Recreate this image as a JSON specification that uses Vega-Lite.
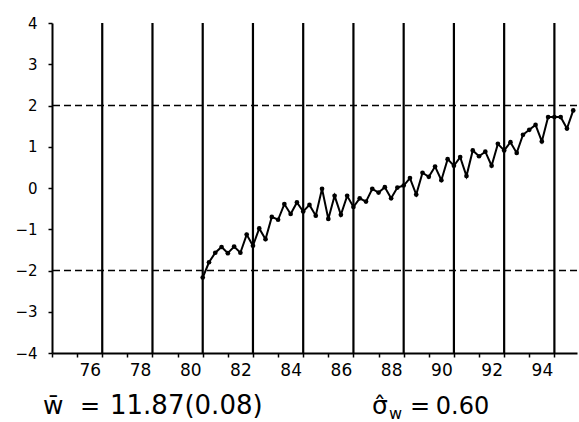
{
  "$schema": "https://vega.github.io/schema/vega-lite/v6.json",
  "autosize": "none",
  "width": 525,
  "height": 330,
  "padding": {"left": 52, "top": 23, "right": 2, "bottom": 69},
  "background": "white",
  "config": {
    "view": {"stroke": null},
    "font": "DejaVu Sans",
    "axis": {"labelOverlap": false, "labelFlush": false, "grid": false, "title": null, "domainColor": "black", "domainWidth": 2, "tickColor": "black", "tickWidth": 1.5, "tickSize": 4, "labelColor": "black"},
    "axisX": {"labelFontSize": 17, "labelPadding": 5, "labelOffset": 12.6},
    "axisY": {"labelFontSize": 15, "labelPadding": 11}
  },
  "datasets": {
    "series": [
      {"t": 81.0, "v": -2.17}, {"t": 81.25, "v": -1.80}, {"t": 81.5, "v": -1.57}, {"t": 81.75, "v": -1.43},
      {"t": 82.0, "v": -1.58}, {"t": 82.25, "v": -1.42}, {"t": 82.5, "v": -1.57}, {"t": 82.75, "v": -1.13},
      {"t": 83.0, "v": -1.40}, {"t": 83.25, "v": -0.98}, {"t": 83.5, "v": -1.24}, {"t": 83.75, "v": -0.70},
      {"t": 84.0, "v": -0.77}, {"t": 84.25, "v": -0.39}, {"t": 84.5, "v": -0.63}, {"t": 84.75, "v": -0.35},
      {"t": 85.0, "v": -0.57}, {"t": 85.25, "v": -0.41}, {"t": 85.5, "v": -0.67}, {"t": 85.75, "v": -0.02},
      {"t": 86.0, "v": -0.75}, {"t": 86.25, "v": -0.19}, {"t": 86.5, "v": -0.65}, {"t": 86.75, "v": -0.19},
      {"t": 87.0, "v": -0.46}, {"t": 87.25, "v": -0.25}, {"t": 87.5, "v": -0.33}, {"t": 87.75, "v": -0.02},
      {"t": 88.0, "v": -0.11}, {"t": 88.25, "v": 0.02}, {"t": 88.5, "v": -0.25}, {"t": 88.75, "v": 0.01},
      {"t": 89.0, "v": 0.06}, {"t": 89.25, "v": 0.24}, {"t": 89.5, "v": -0.16}, {"t": 89.75, "v": 0.37},
      {"t": 90.0, "v": 0.27}, {"t": 90.25, "v": 0.52}, {"t": 90.5, "v": 0.19}, {"t": 90.75, "v": 0.70},
      {"t": 91.0, "v": 0.54}, {"t": 91.25, "v": 0.75}, {"t": 91.5, "v": 0.29}, {"t": 91.75, "v": 0.91},
      {"t": 92.0, "v": 0.77}, {"t": 92.25, "v": 0.88}, {"t": 92.5, "v": 0.54}, {"t": 92.75, "v": 1.07},
      {"t": 93.0, "v": 0.91}, {"t": 93.25, "v": 1.11}, {"t": 93.5, "v": 0.85}, {"t": 93.75, "v": 1.29},
      {"t": 94.0, "v": 1.41}, {"t": 94.25, "v": 1.53}, {"t": 94.5, "v": 1.13}, {"t": 94.75, "v": 1.72},
      {"t": 95.0, "v": 1.72}, {"t": 95.25, "v": 1.72}, {"t": 95.5, "v": 1.44}, {"t": 95.75, "v": 1.88}
    ],
    "vgrid": [{"g": 77}, {"g": 79}, {"g": 81}, {"g": 83}, {"g": 85}, {"g": 87}, {"g": 89}, {"g": 91}, {"g": 93}, {"g": 95}],
    "bands": [{"b": 2}, {"b": -2}],
    "notes": [
      {"label": "w̄", "nx": 74.642, "ny": -5.479, "size": 25},
      {"label": "=", "nx": 76.115, "ny": -5.479, "size": 24},
      {"label": "11.87(0.08)", "nx": 77.309, "ny": -5.479, "size": 26},
      {"label": "σ̂", "nx": 87.739, "ny": -5.479, "size": 25},
      {"label": "=", "nx": 89.25, "ny": -5.479, "size": 24},
      {"label": "0.60", "nx": 90.28, "ny": -5.479, "size": 24},
      {"label": "w", "nx": 88.416, "ny": -5.6, "size": 16}
    ]
  },
  "layer": [
    {
      "data": {"name": "vgrid"},
      "mark": {"type": "rule", "color": "black", "strokeWidth": 2.2},
      "encoding": {
        "x": {"field": "g", "type": "quantitative",
          "scale": {"domain": [75, 95.9], "nice": false, "zero": false},
          "axis": {
            "values": [75, 76, 77, 78, 79, 80, 81, 82, 83, 84, 85, 86, 87, 88, 89, 90, 91, 92, 93, 94, 95],
            "labelExpr": "datum.value % 2 === 0 ? '' + datum.value : ''",
            "labelOverlap": false
          }
        }
      }
    },
    {
      "mark": {"type": "rule", "color": "black", "strokeWidth": 1.6},
      "encoding": {
        "y": {"datum": 0, "type": "quantitative",
          "scale": {"domain": [-4, 4], "nice": false},
          "axis": {"values": [-4, -3, -2, -1, 0, 1, 2, 3, 4], "format": "d"}
        }
      }
    },
    {
      "data": {"name": "bands"},
      "mark": {"type": "rule", "color": "black", "strokeWidth": 1.6, "strokeDash": [7, 4]},
      "encoding": {"y": {"field": "b", "type": "quantitative", "axis": {"values": [-4, -3, -2, -1, 0, 1, 2, 3, 4], "format": "d"}}}
    },
    {
      "data": {"name": "series"},
      "mark": {"type": "line", "color": "black", "strokeWidth": 2, "point": {"filled": true, "color": "black", "size": 22}},
      "encoding": {
        "x": {"field": "t", "type": "quantitative",
          "axis": {
            "values": [75, 76, 77, 78, 79, 80, 81, 82, 83, 84, 85, 86, 87, 88, 89, 90, 91, 92, 93, 94, 95],
            "labelExpr": "datum.value % 2 === 0 ? '' + datum.value : ''",
            "labelOverlap": false
          }
        },
        "y": {"field": "v", "type": "quantitative", "axis": {"values": [-4, -3, -2, -1, 0, 1, 2, 3, 4], "format": "d"}}
      }
    },
    {
      "data": {"name": "notes"},
      "mark": {"type": "text", "align": "left", "baseline": "alphabetic", "font": "DejaVu Sans", "color": "black", "clip": false},
      "encoding": {
        "x": {"field": "nx", "type": "quantitative",
          "axis": {
            "values": [75, 76, 77, 78, 79, 80, 81, 82, 83, 84, 85, 86, 87, 88, 89, 90, 91, 92, 93, 94, 95],
            "labelExpr": "datum.value % 2 === 0 ? '' + datum.value : ''",
            "labelOverlap": false
          }
        },
        "y": {"field": "ny", "type": "quantitative", "axis": {"values": [-4, -3, -2, -1, 0, 1, 2, 3, 4], "format": "d"}},
        "text": {"field": "label"},
        "size": {"field": "size", "type": "quantitative", "scale": null}
      }
    }
  ]
}
